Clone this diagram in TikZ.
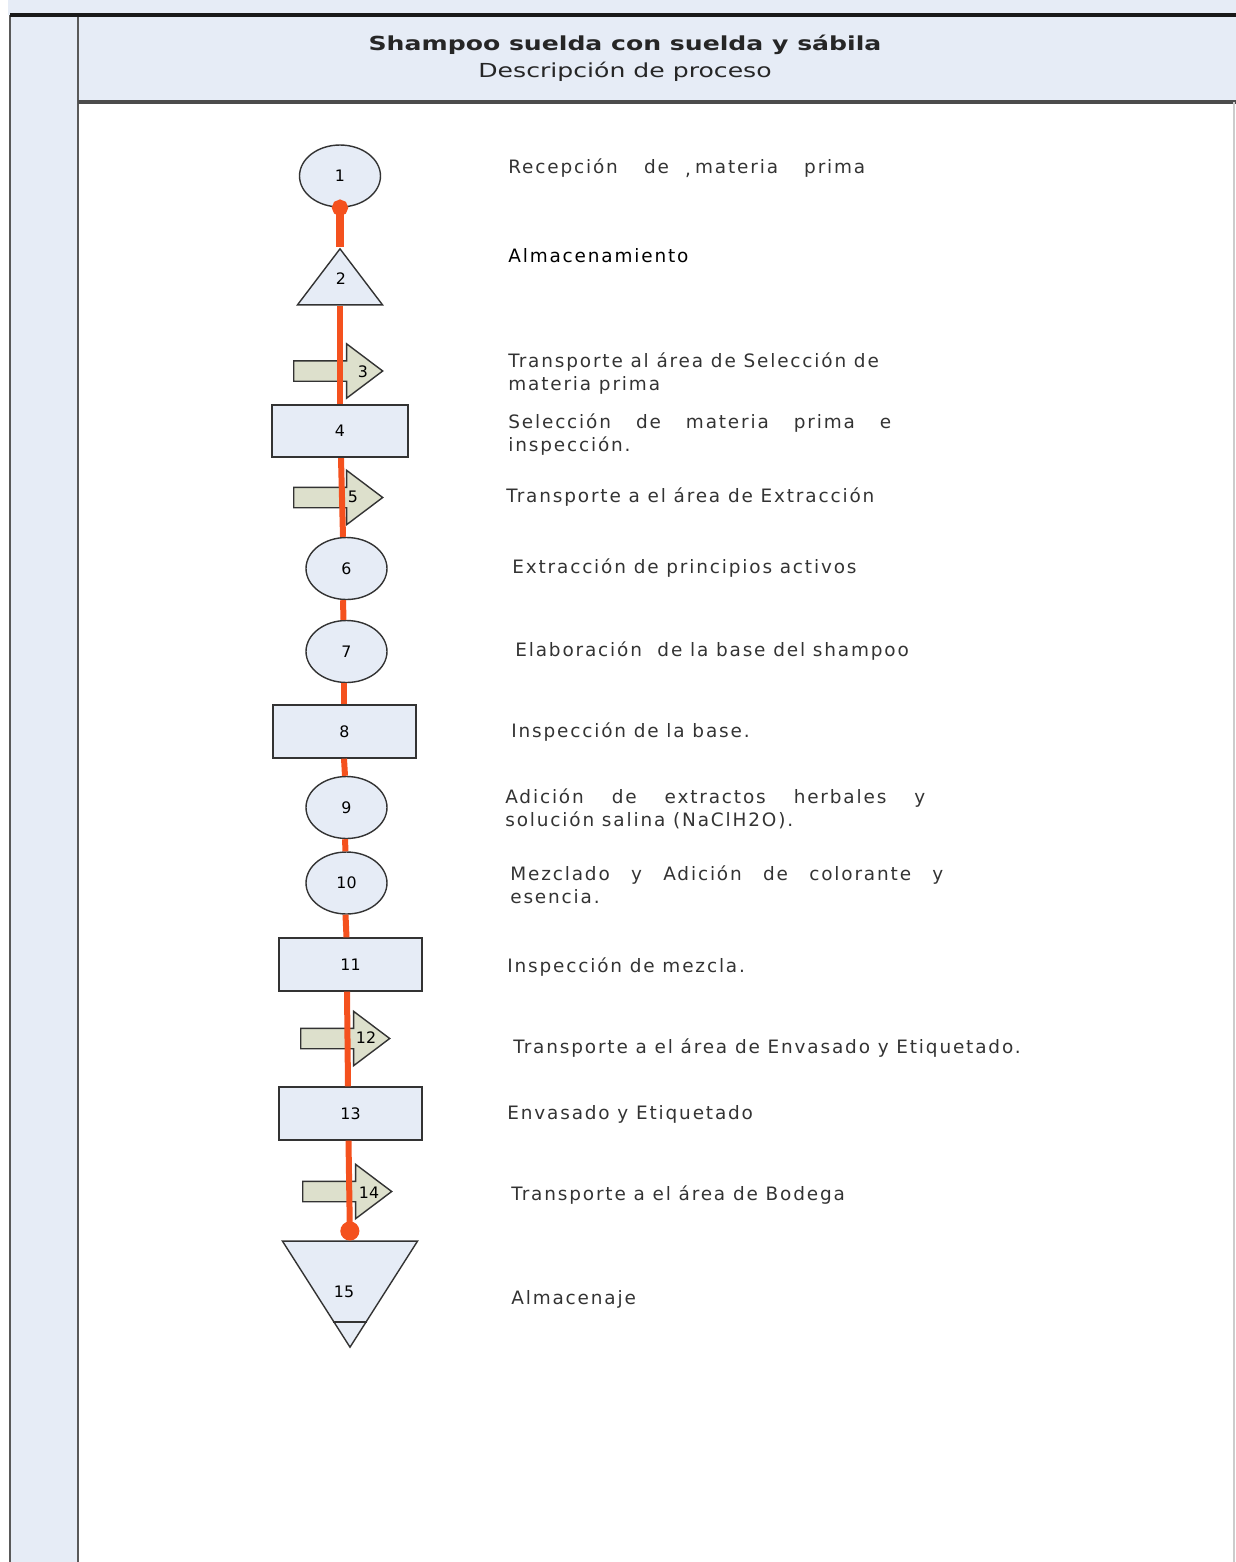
\documentclass[tikz,border=0pt]{standalone}
\usepackage{fontspec}
\setmainfont{DejaVu Sans}
\newfontfamily\descfont[LetterSpace=10]{DejaVu Sans}
\newfontfamily\cabfont[FakeStretch=1.3]{DejaVu Sans}
\usetikzlibrary{arrows.meta, positioning, shapes.geometric, shapes.arrows, calc}
\definecolor{cfondo}{HTML}{E6ECF6}
\definecolor{cborde}{HTML}{333333}
\definecolor{cflecha}{HTML}{DDE0CC}
\definecolor{cflujo}{HTML}{F4511E}
\definecolor{ctexto}{HTML}{333333}
\tikzset{
  oper/.style={ellipse, draw=cborde, fill=cfondo, line width=0.8pt, minimum width=1.62cm, minimum height=1.24cm, inner sep=0pt, font=\fontsize{9}{10}\selectfont},
  insp/.style={rectangle, draw=cborde, fill=cfondo, line width=1pt, minimum width=2.86cm, minimum height=1.05cm, inner sep=0pt, font=\fontsize{9}{10}\selectfont},
  trans/.style={single arrow, draw=cborde, fill=cflecha, line width=0.8pt, minimum height=1.78cm, inner sep=0.19cm,
    single arrow head extend=0.34cm, single arrow tip angle=74, single arrow head indent=0pt, anchor=tail},
  alma/.style={isosceles triangle, isosceles triangle stretches, draw=cborde, fill=cfondo, line width=0.8pt, inner sep=0pt, anchor=apex},
  num/.style={font=\fontsize{9}{10}\selectfont, text=black, inner sep=0pt},
  flujo/.style={draw=cflujo, line width=0.12cm},
  desc/.style={anchor=west, font=\descfont\fontsize{10.5}{13}\selectfont, text=ctexto, align=left, inner sep=0pt, yshift=-1.1pt},
  titulo/.style={font=\cabfont\fontsize{11}{13}\selectfont, text=black!85, inner sep=0pt},
}

\begin{document}
\begin{tikzpicture}[x=0.02cm, y=-0.02cm]
  \useasboundingbox (0,0) rectangle (1236,1562);
  % marco de la hoja
  \fill[cfondo] (8,0) rectangle (1236,15);
  \fill[cfondo] (10,15) rectangle (78,1562);
  \fill[cfondo] (78,16) rectangle (1236,102);
  \draw[black!65, line width=1.6pt] (10,15) -- (10,1562);
  \draw[black!65, line width=1.4pt] (78,16) -- (78,1562);
  \draw[black!70, line width=1.8pt] (78,102) -- (1236,102);
  \draw[black!20, line width=0.6pt] (1234,102) -- (1234,1562);
  \draw[black!90, line width=2pt] (10,15) -- (1236,15);
  \node[titulo, font=\cabfont\bfseries\fontsize{11}{13}\selectfont] (tit) at (625,45) {Shampoo suelda con suelda y sábila};
  \node[titulo] (sub) at (625,72) {Descripción de proceso};

  % simbolos del diagrama
  \node[oper] (n1) at (340,176) {1};
  \node[alma, shape border rotate=90, minimum width=1.7cm, minimum height=1.12cm] (n2) at (340,247) {};
  \node[num] (l2) at (341,279) {2};
  \node[trans] (n3) at (293,371) {};
  \node[num] (l3) at (363,372) {3};
  \node[insp, minimum width=2.72cm] (n4) at (340,431) {4};
  \node[trans] (n5) at (293,497.5) {};
  \node[num] (l5) at (353,497) {5};
  \node[oper] (n6) at (346.5,568.5) {6};
  \node[oper] (n7) at (346.5,651.5) {7};
  \node[insp] (n8) at (344.5,731.5) {8};
  \node[oper] (n9) at (346.5,807.5) {9};
  \node[oper] (n10) at (346.5,883) {10};
  \node[insp] (n11) at (350.5,964.5) {11};
  \node[trans] (n12) at (300,1038.5) {};
  \node[num] (l12) at (366,1038) {12};
  \node[insp] (n13) at (350.5,1113.5) {13};
  \node[trans] (n14) at (302,1191.5) {};
  \node[num] (l14) at (369,1193) {14};
  \node[alma, shape border rotate=270, minimum width=2.7cm, minimum height=2.12cm] (n15) at (350,1349) {};
  \node[num] (l15) at (344,1292) {15};
  \draw[cborde, line width=0.8pt] ($(n15.apex)!0.25!(n15.left corner)$) -- ($(n15.apex)!0.25!(n15.right corner)$);

  % linea de flujo (casi vertical, baja poco a poco hacia la derecha)
  \draw[flujo, line width=0.16cm, {Circle[length=0.32cm]}-, shorten <=-0.16cm] (n1.south) -- (n2.apex);
  \draw[flujo] (n2.lower side) -- (n4.north);
  \draw[flujo] ($(n4.south)+(1,0)$) -- ($(n6.north)+(-3.5,0)$);
  \draw[flujo] ($(n6.south)+(-3.5,0)$) -- ($(n7.north)+(-3,0)$);
  \draw[flujo] ($(n7.south)+(-3,0)$) -- ($(n8.north)+(-1,0)$);
  \draw[flujo] ($(n8.south)+(-0.5,0)$) -- ($(n9.north)+(-1.5,0)$);
  \draw[flujo] ($(n9.south)+(-1.5,0)$) -- ($(n10.north)+(-1,0)$);
  \draw[flujo] ($(n10.south)+(-1,0)$) -- ($(n11.north)+(-4,0)$);
  \draw[flujo] ($(n11.south)+(-3.5,0)$) -- ($(n13.north)+(-2.5,0)$);
  \draw[flujo, -{Circle[length=0.38cm]}] ($(n13.south)+(-2,0)$) -- (n15.lower side);

  % descripcion de cada paso
  \node[desc] (d1) at (508,166) {\makebox[7.14cm][s]{Recepción de materia prima}};
  \node[font=\descfont\fontsize{10.5}{13}\selectfont, text=ctexto, inner sep=0pt, anchor=base] (coma) at (688,175) {,};
  \node[desc, text=black] (d2) at (508,254) {Almacenamiento};
  \node[desc] (d3) at (508,371.5) {Transporte al área de Selección de\\materia prima};
  \node[desc] (d4) at (508,432.5) {\makebox[7.66cm][s]{Selección de materia prima e}\\inspección.};
  \node[desc] (d5) at (506,495) {Transporte a el área de Extracción};
  \node[desc] (d6) at (512,566) {Extracción de principios activos};
  \node[desc] (d7) at (515,649) {Elaboración\ \ de la base del shampoo};
  \node[desc] (d8) at (511,730) {Inspección de la base.};
  \node[desc] (d9) at (505,806.5) {\makebox[8.4cm][s]{Adición de extractos herbales y}\\solución salina (NaClH2O).};
  \node[desc] (d10) at (510,882.5) {\makebox[8.66cm][s]{Mezclado y Adición de colorante y}\\esencia.};
  \node[desc] (d11) at (507,965) {Inspección de mezcla.};
  \node[desc] (d12) at (513,1046) {Transporte a el área de Envasado y Etiquetado.};
  \node[desc] (d13) at (507,1112) {Envasado y Etiquetado};
  \node[desc] (d14) at (511,1193) {Transporte a el área de Bodega};
  \node[desc] (d15) at (511,1297) {Almacenaje};
\end{tikzpicture}
\end{document}
